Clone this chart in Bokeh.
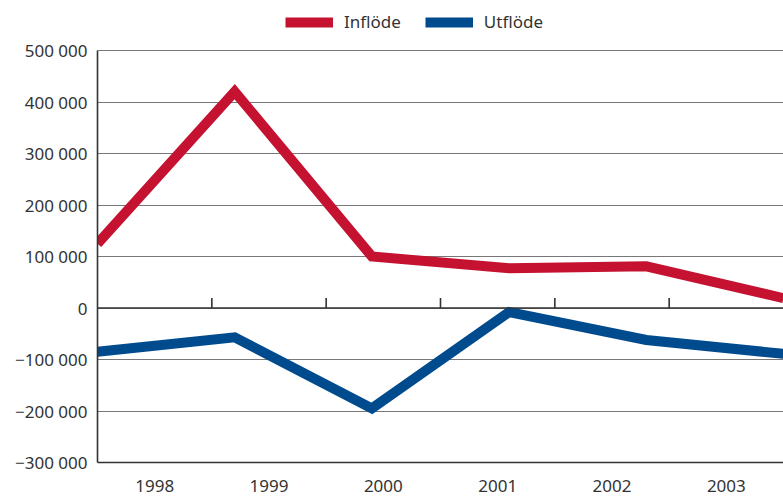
from bokeh.plotting import figure
from bokeh.models import Range1d, FixedTicker, Span, Legend, LegendItem
from bokeh.embed import file_html
from bokeh.resources import INLINE

years = ["1998", "1999", "2000", "2001", "2002", "2003"]
inflode = [125000, 420000, 100000, 77000, 81000, 19000]
utflode = [-85000, -57000, -195000, -8000, -62000, -89000]
y_ticks = [-300000, -200000, -100000, 0, 100000, 200000, 300000, 400000, 500000]

FONT = "Noto Sans"
TXT = "#333333"
RED = "#C41230"
BLUE = "#004B8D"

n = len(years)
xs = [i * n / (n - 1) for i in range(n)]

def fmt(v):
    s = f"{abs(v):,}".replace(",", " ")
    return ("\u2212" + s) if v < 0 else s

# plot band for the data is 412 px tall; 50 px of headroom above it holds the legend
span_y = y_ticks[-1] - y_ticks[0]
y_top = y_ticks[-1] + span_y * 50 / 412

p = figure(width=783, height=500, output_backend="svg", toolbar_location=None,
           x_range=Range1d(0, n), y_range=Range1d(y_ticks[0], y_top),
           min_border_left=97, min_border_right=0, min_border_top=0, min_border_bottom=38)
p.outline_line_color = None
p.background_fill_color = "white"
p.border_fill_color = "white"

r_in = p.line(xs, inflode, line_color=RED, line_width=10, line_join="miter")
r_ut = p.line(xs, utflode, line_color=BLUE, line_width=10, line_join="miter")

# zero line and band ticks
p.add_layout(Span(location=0, dimension="width", line_color="#333333", line_width=1.6))
tick_h = span_y * 10 / 412
edges = list(range(1, n))
p.segment(x0=edges, y0=[0] * len(edges), x1=edges, y1=[tick_h] * len(edges),
          line_color="#333333", line_width=1.6)

# y axis
p.yaxis.ticker = FixedTicker(ticks=y_ticks)
p.yaxis.bounds = (y_ticks[0], y_ticks[-1])
p.yaxis.major_label_overrides = {t: fmt(t) for t in y_ticks}
p.yaxis.major_tick_out = 0
p.yaxis.major_tick_in = 0
p.yaxis.minor_tick_out = 0
p.yaxis.minor_tick_in = 0
p.yaxis.axis_line_color = "#333333"
p.yaxis.axis_line_width = 1.6
p.yaxis.major_label_text_font = FONT
p.yaxis.major_label_text_font_size = "17px"
p.yaxis.major_label_text_color = TXT
p.yaxis.major_label_text_baseline = "top"
p.yaxis.major_label_standoff = 10

# x axis
centers = [i + 0.5 for i in range(n)]
p.xaxis.ticker = FixedTicker(ticks=centers)
p.xaxis.major_label_overrides = {c: y for c, y in zip(centers, years)}
p.xaxis.major_tick_out = 0
p.xaxis.major_tick_in = 0
p.xaxis.minor_tick_out = 0
p.xaxis.minor_tick_in = 0
p.xaxis.axis_line_color = "#333333"
p.xaxis.axis_line_width = 1.6
p.xaxis.major_label_text_font = FONT
p.xaxis.major_label_text_font_size = "17px"
p.xaxis.major_label_text_color = TXT
p.xaxis.major_label_standoff = 17

p.xgrid.visible = False
p.ygrid.ticker = FixedTicker(ticks=y_ticks)
p.ygrid.grid_line_color = "#777777"
p.ygrid.grid_line_width = 1

legend = Legend(items=[LegendItem(label="Inflöde", renderers=[r_in]),
                       LegendItem(label="Utflöde", renderers=[r_ut])],
                orientation="horizontal", location=(188, 429),
                glyph_width=48, glyph_height=20, label_standoff=11, spacing=24,
                padding=2, margin=0, border_line_color=None, background_fill_alpha=0,
                label_text_font=FONT, label_text_font_size="17px", label_text_color=TXT)
p.add_layout(legend, "center")

open("out.html", "w").write(file_html(p, INLINE))
